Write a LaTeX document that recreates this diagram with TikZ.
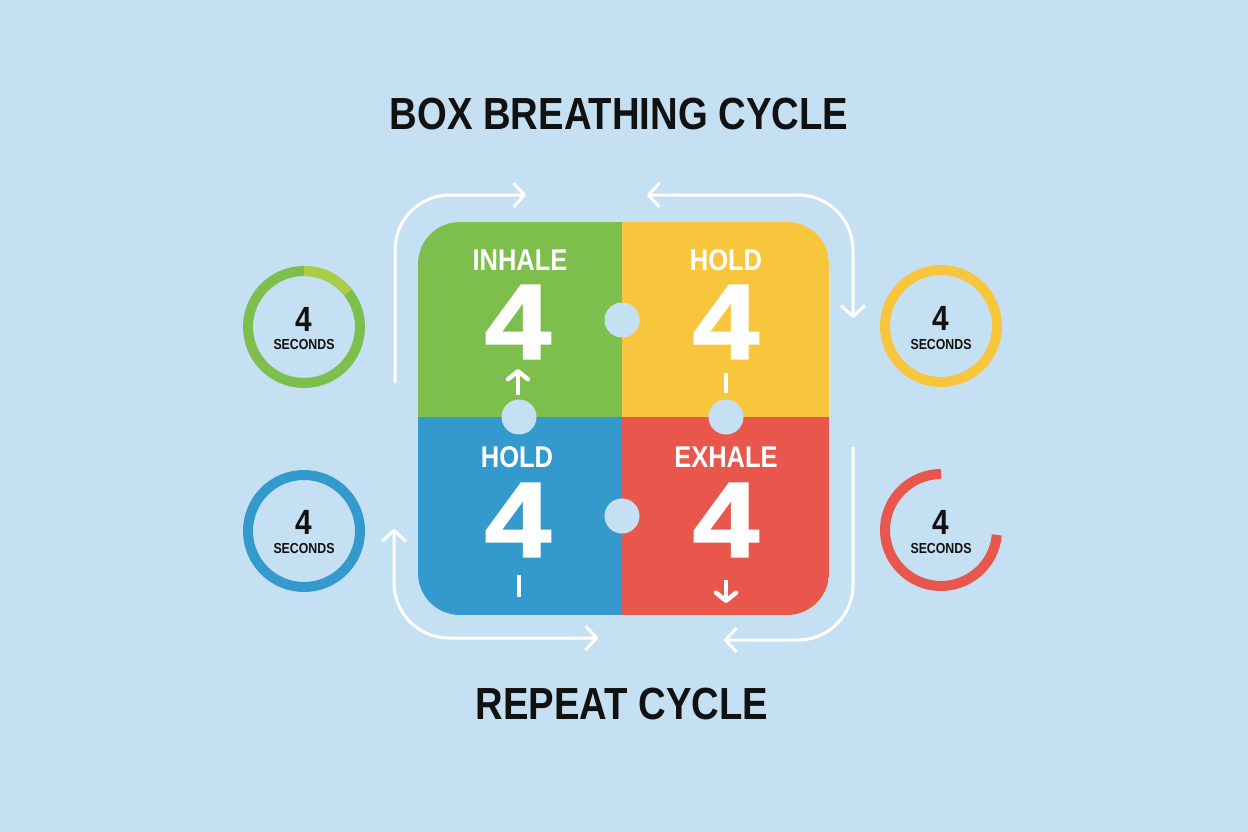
\documentclass[tikz,border=0pt]{standalone}
\usepackage{fontspec}
\setmainfont{Liberation Sans}
\newfontfamily\condfont{Liberation Sans}[FakeStretch=0.85]
\newfontfamily\numfont{Liberation Sans}[FakeStretch=1.12, FakeBold=2]
\usetikzlibrary{arrows.meta}
\definecolor{bg}{RGB}{197,224,242}
\definecolor{cgreen}{RGB}{126,190,76}
\definecolor{clime}{RGB}{170,204,70}
\definecolor{cyellow}{RGB}{248,198,60}
\definecolor{cblue}{RGB}{52,154,206}
\definecolor{cred}{RGB}{233,86,76}
\definecolor{ink}{RGB}{17,17,17}
\tikzset{
  title/.style={font=\condfont\bfseries\fontsize{45}{50}\selectfont, text=ink, inner sep=0pt},
  qlabel/.style={font=\condfont\bfseries\fontsize{30}{34}\selectfont, text=white, inner sep=0pt},
  bignum/.style={font=\numfont\bfseries\fontsize{106}{110}\selectfont, text=white, inner sep=0pt},
  tnum/.style={font=\condfont\bfseries\fontsize{35}{38}\selectfont, text=ink, inner sep=0pt},
  tsec/.style={font=\condfont\bfseries\fontsize{14.5}{16}\selectfont, text=ink, inner sep=0pt},
  ring/.style={line width=10pt},
  hole/.style={fill=bg},
  looparrow/.style={draw=white, line width=3pt, line cap=round, line join=round, rounded corners=55pt},
  barb/.tip={Straight Barb[length=11pt,width=24pt,line join=round]},
  smallbarb/.tip={Straight Barb[length=8pt,width=20pt,line join=round,line cap=round]},
  inarrow/.style={draw=white, line width=4.5pt},
}
\begin{document}
\begin{tikzpicture}[x=1pt,y=-1pt]
\useasboundingbox (0,0) rectangle (1248,832);
\fill[bg] (0,0) rectangle (1248,832);

% title
\node[title] (ttl) at (619,114) {BOX BREATHING CYCLE};
\node[title] (rep) at (622,704) {REPEAT CYCLE};

% main box
\begin{scope}
\path[clip, rounded corners=42pt] (418,222) rectangle (829,615);
\fill[cgreen] (418,222) rectangle (622,417);
\fill[cyellow] (622,222) rectangle (829,417);
\fill[cblue] (418,417) rectangle (622,615);
\fill[cred] (622,417) rectangle (829,615);
\end{scope}
\fill[hole] (622,320) circle[radius=17.5pt];
\fill[hole] (519,417) circle[radius=17.5pt];
\fill[hole] (726,417) circle[radius=17.5pt];
\fill[hole] (622,516) circle[radius=17.5pt];

% quadrant labels
\node[qlabel] (lin) at (520,260) {INHALE};
\node[qlabel] (lh1) at (726,260) {HOLD};
\node[qlabel] (lh2) at (517,457) {HOLD};
\node[qlabel] (lex) at (726,457) {EXHALE};
\node[bignum] (n1) at (518,322) {4};
\node[bignum] (n2) at (726,322) {4};
\node[bignum] (n3) at (518,520) {4};
\node[bignum] (n4) at (726,520) {4};

% small indicators
\coordinate (ga) at (518,395); \coordinate (gb) at (518,369);
\draw[inarrow, -{smallbarb}] (ga) -- (gb);
\coordinate (ya) at (726,373); \coordinate (yb) at (726,393);
\draw[inarrow] (ya) -- (yb);
\coordinate (ba) at (519,575); \coordinate (bb) at (519,597);
\draw[inarrow] (ba) -- (bb);
\coordinate (ra) at (726,580); \coordinate (rb) at (726,603);
\draw[inarrow, -{smallbarb}] (ra) -- (rb);

% loop arrows
\coordinate (tl1) at (395,382); \coordinate (tl2) at (395,195); \coordinate (tl3) at (526,195);
\draw[looparrow, -{barb}] (tl1) -- (tl2) -- (tl3);
\coordinate (tr1) at (647,195); \coordinate (tr2) at (853,195); \coordinate (tr3) at (853,318);
\draw[looparrow, {barb}-{barb}] (tr1) -- (tr2) -- (tr3);
\coordinate (bl1) at (394,529); \coordinate (bl2) at (394,638); \coordinate (bl3) at (598,638);
\draw[looparrow, {barb}-{barb}] (bl1) -- (bl2) -- (bl3);
\coordinate (br1) at (853,448); \coordinate (br2) at (853,640); \coordinate (br3) at (724,640);
\draw[looparrow, -{barb}] (br1) -- (br2) -- (br3);

% timers
\coordinate (cg) at (304,327);
\draw[ring, cgreen] (cg) circle[radius=56pt];
\draw[ring, clime] (cg) ++(90:56pt) arc[start angle=90, end angle=38, radius=56pt];
\node[tnum] (tg) at (304,319) {4};
\node[tsec] (sg) at (304,345) {SECONDS};

\coordinate (cy) at (941,326);
\draw[ring, cyellow] (cy) circle[radius=56pt];
\node[tnum] (ty) at (941,318) {4};
\node[tsec] (sy) at (941,345) {SECONDS};

\coordinate (cb) at (304,531);
\draw[ring, cblue] (cb) circle[radius=56pt];
\node[tnum] (tb) at (304,522) {4};
\node[tsec] (sb) at (304,549) {SECONDS};

\coordinate (cr) at (941,530);
\draw[ring, cred] (cr) ++(90:56pt) arc[start angle=90, end angle=355, radius=56pt];
\node[tnum] (tr) at (941,522) {4};
\node[tsec] (sr) at (941,549) {SECONDS};
\end{tikzpicture}
\end{document}
